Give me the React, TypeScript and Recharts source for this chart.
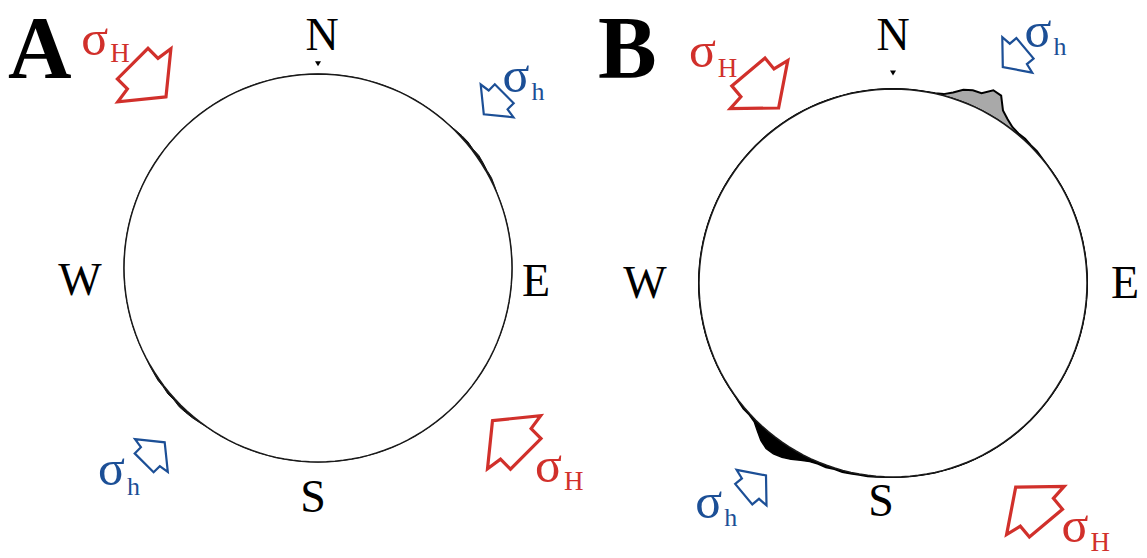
import React from 'react';
import { RadarChart, Radar, PolarAngleAxis, PolarRadiusAxis, Customized } from 'recharts';

// ---- borehole cross-section data (radius in units of the nominal bit radius) ----
const AZIMUTH_STEP = 2.5;
const AZIMUTHS: number[] = Array.from({ length: 360 / AZIMUTH_STEP }, (_, i) => i * AZIMUTH_STEP);
const BORE_RADIUS = 1;
const R_MAX = 1.2;

const COMPASS_AZ = [0, 90, 180, 270];
const COMPASS_LABELS = ['N', 'E', 'S', 'W'];

// Well A: minor spalling only
const spallA_AZ = [45, 47.5, 50, 52.5, 55, 57.5, 60, 62.5, 65, 217.5, 220, 222.5, 225, 227.5, 230, 232.5, 235, 237.5, 240];
const spallA_R = [1.004, 1.008, 1.01, 1.007, 1.012, 1.009, 1.006, 1.008, 1.004, 1.004, 1.008, 1.01, 1.012, 1.007, 1.01, 1.006, 1.008, 1.005, 1.003];

// Well B: breakouts to the NE and SW
const breakoutB_NE_AZ = [12.5, 15, 17.5, 20, 22.5, 25, 27.5, 30, 32.5, 35, 37.5, 40, 42.5, 45, 47.5, 50];
const breakoutB_NE_R = [1.002, 1.008, 1.03, 1.06, 1.075, 1.08, 1.12, 1.115, 1.055, 1.03, 1.012, 1.006, 1.008, 1.004, 1.006, 1.002];
const breakoutB_SW_AZ = [185, 187.5, 190, 192.5, 195, 197.5, 200, 202.5, 205, 207.5, 210, 212.5, 215, 217.5, 220, 222.5, 225, 227.5, 230, 232.5];
const breakoutB_SW_R = [1.004, 1.006, 1.005, 1.008, 1.01, 1.007, 1.012, 1.01, 1.016, 1.03, 1.05, 1.065, 1.075, 1.075, 1.06, 1.035, 1.012, 1.006, 1.008, 1.004];

// Stress arrows: kind, azimuth of the arrow, distance (bit radii), bearing it points to
const stressKindA = ['H', 'h', 'h', 'H'];
const arrowAzA = [318, 47, 221.6, 131.6];
const arrowDistA = [1.33, 1.258, 1.289, 1.345];
const arrowBearingA = [135, 225, 45, 315];

const stressKindB = ['H', 'h', 'h', 'H'];
const arrowAzB = [326, 28.5, 214.6, 148];
const arrowDistB = [1.227, 1.335, 1.278, 1.376];
const arrowBearingB = [140, 230, 50, 320];

// ---- styling / layout ----
const SERIF = "'Liberation Serif', 'Times New Roman', serif";
const RED = '#d1302b';
const BLUE = '#1c4f96';
const PX_PER_UNIT = 194;
const WIDTH = 1147;
const HEIGHT = 558;

type Panel = {
  letter: string;
  cx: number;
  cy: number;
  letterX: number;
  compassOffset: number[][];
  labelOffset: number[][];
  subDy: number[];
  northMarker: number;
  kinds: string[];
  az: number[];
  dist: number[];
  bearing: number[];
};

const panelA: Panel = {
  letter: 'A',
  cx: 318,
  cy: 268,
  letterX: 8,
  compassOffset: [[4, -233], [218, 13], [-5, 229], [-238, 12]],
  labelOffset: [[-64, -21], [6, -10], [-54, 30], [22, 41]],
  subDy: [7, 8, 10, 8],
  northMarker: 1.045,
  kinds: stressKindA,
  az: arrowAzA,
  dist: arrowDistA,
  bearing: arrowBearingA,
};

const panelB: Panel = {
  letter: 'B',
  cx: 893,
  cy: 283,
  letterX: 598,
  compassOffset: [[0, -248], [232, 0], [-12, 218], [-248, 0]],
  labelOffset: [[-71, -19], [8, -8], [-57, 31], [27, 33]],
  subDy: [10, 8, 8, 9],
  northMarker: 1.075,
  kinds: stressKindB,
  az: arrowAzB,
  dist: arrowDistB,
  bearing: arrowBearingB,
};

const lookup = (azs: number[], rs: number[]) => {
  const m = new Map<number, number>();
  azs.forEach((a, i) => m.set(a, rs[i]));
  return m;
};

const rowsA = (() => {
  const spall = lookup(spallA_AZ, spallA_R);
  return AZIMUTHS.map((az) => ({ az, wall: BORE_RADIUS, spall: spall.get(az) ?? BORE_RADIUS }));
})();

const rowsB = (() => {
  const ne = lookup(breakoutB_NE_AZ, breakoutB_NE_R);
  const sw = lookup(breakoutB_SW_AZ, breakoutB_SW_R);
  return AZIMUTHS.map((az) => ({
    az,
    wall: BORE_RADIUS,
    ne: ne.get(az) ?? BORE_RADIUS,
    sw: sw.get(az) ?? BORE_RADIUS,
  }));
})();

const rad = (deg: number) => (deg * Math.PI) / 180;

// block arrow outline, unit length, tip at u = 0 pointing along +u
const ARROW_SHAPE: number[][] = [
  [0, 0],
  [-0.65, 0.8],
  [-0.7, 0.46],
  [-1, 0.46],
  [-1, -0.46],
  [-0.7, -0.46],
  [-0.65, -0.8],
];

function arrowPoints(x: number, y: number, bearing: number, len: number) {
  const ax = Math.sin(rad(bearing));
  const ay = -Math.cos(rad(bearing));
  const px = Math.cos(rad(bearing));
  const py = Math.sin(rad(bearing));
  return ARROW_SHAPE.map(([u, v]) => {
    const uu = (u + 0.62) * len;
    const vv = v * len;
    return `${(x + uu * ax + vv * px).toFixed(1)},${(y + uu * ay + vv * py).toFixed(1)}`;
  }).join(' ');
}

function Overlay({ p }: { p: Panel }) {
  const nm = p.northMarker * PX_PER_UNIT;
  return (
    <g>
      <text x={p.letterX} y={77} fontFamily={SERIF} fontWeight="bold" fontSize={88} fill="#000">
        {p.letter}
      </text>
      <polygon
        points={`${p.cx - 3},${p.cy - nm - 4} ${p.cx + 3},${p.cy - nm - 4} ${p.cx},${p.cy - nm + 1}`}
        fill="#000"
      />
      {p.kinds.map((k, i) => {
        const r = p.dist[i] * PX_PER_UNIT;
        const x = p.cx + r * Math.sin(rad(p.az[i]));
        const y = p.cy - r * Math.cos(rad(p.az[i]));
        const big = k === 'H';
        const color = big ? RED : BLUE;
        const [lx, ly] = p.labelOffset[i];
        return (
          <g key={i}>
            <polygon
              points={arrowPoints(x, y, p.bearing[i], big ? 47 : 29)}
              fill="none"
              stroke={color}
              strokeWidth={big ? 3.2 : 2.2}
              strokeLinejoin="miter"
            />
            <text x={x + lx} y={y + ly} fontFamily={SERIF} fill={color} fontSize={50}>
              σ
              <tspan fontSize={big ? 27 : 26} dy={p.subDy[i]} dx={2}>
                {k}
              </tspan>
            </text>
          </g>
        );
      })}
    </g>
  );
}

function compassTick(p: Panel) {
  return (props: any) => {
    const v = Number(props?.payload?.value);
    const idx = COMPASS_AZ.indexOf(v);
    if (idx < 0) return <g />;
    const [dx, dy] = p.compassOffset[idx];
    return (
      <text
        x={p.cx + dx}
        y={p.cy + dy + 15}
        textAnchor="middle"
        fontFamily={SERIF}
        fontSize={46}
        fill="#000"
      >
        {COMPASS_LABELS[idx]}
      </text>
    );
  };
}

function BoreholePanel({ p, data, children }: { p: Panel; data: any[]; children: React.ReactNode }) {
  return (
    <div style={{ position: 'absolute', left: 0, top: 0, width: WIDTH, height: HEIGHT }}>
      <RadarChart
        width={WIDTH}
        height={HEIGHT}
        data={data}
        cx={p.cx}
        cy={p.cy}
        outerRadius={R_MAX * PX_PER_UNIT}
        startAngle={90}
        endAngle={-270}
        margin={{ top: 0, right: 0, bottom: 0, left: 0 }}
      >
        <PolarAngleAxis dataKey="az" axisLine={false} tickLine={false} tick={compassTick(p)} />
        <PolarRadiusAxis type="number" domain={[0, R_MAX]} tick={false} axisLine={false} />
        {children}
        <Customized component={() => <Overlay p={p} />} />
      </RadarChart>
    </div>
  );
}

export default function App() {
  return (
    <div
      style={{
        position: 'absolute',
        left: 0,
        top: 0,
        width: WIDTH,
        height: HEIGHT,
        background: '#fff',
        overflow: 'hidden',
      }}
    >
      <BoreholePanel p={panelA} data={rowsA}>
        <Radar dataKey="spall" fill="#111" fillOpacity={1} stroke="#111" strokeWidth={1} dot={false} isAnimationActive={false} />
        <Radar dataKey="wall" fill="#fff" fillOpacity={1} stroke="#1a1a1a" strokeWidth={1.5} dot={false} isAnimationActive={false} />
      </BoreholePanel>
      <BoreholePanel p={panelB} data={rowsB}>
        <Radar dataKey="ne" fill="#a9a9a9" fillOpacity={1} stroke="#000" strokeWidth={2} dot={false} isAnimationActive={false} />
        <Radar dataKey="sw" fill="#000" fillOpacity={1} stroke="#000" strokeWidth={1.4} dot={false} isAnimationActive={false} />
        <Radar dataKey="wall" fill="#fff" fillOpacity={1} stroke="#1a1a1a" strokeWidth={1.5} dot={false} isAnimationActive={false} />
      </BoreholePanel>
    </div>
  );
}
